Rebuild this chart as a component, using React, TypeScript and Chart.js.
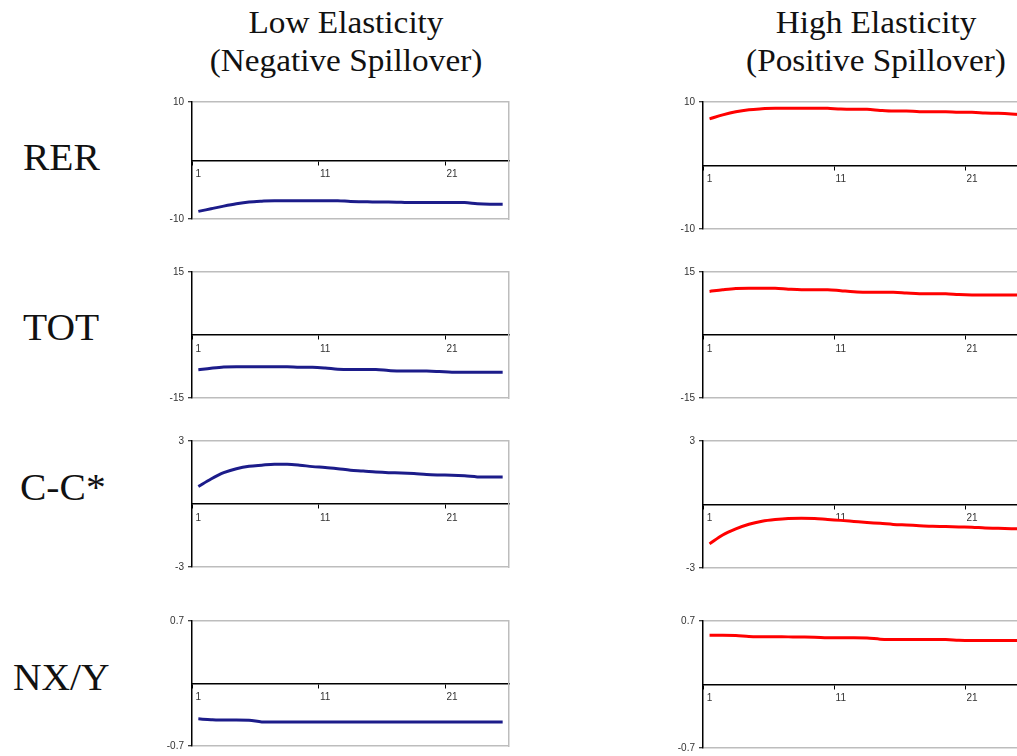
import React, { useEffect, useRef } from 'react';
import { Chart, registerables } from 'chart.js';

Chart.register(...registerables);

// ---------- data ----------
const periods = [1, 2, 3, 4, 5, 6, 7, 8, 9, 10, 11, 12, 13, 14, 15, 16, 17, 18, 19, 20, 21, 22, 23, 24, 25];
const labeledPeriods = [1, 11, 21];

const rowLabels = ['RER', 'TOT', 'C-C*', 'NX/Y'];
const columnTitles = [
  ['Low Elasticity', '(Negative Spillover)'],
  ['High Elasticity', '(Positive Spillover)'],
];

const rerTicks = [-10, 10];
const totTicks = [-15, 15];
const ccTicks = [-3, 3];
const nxTicks = [-0.7, 0.7];

const lowRER = [-8.7, -8.25, -7.8, -7.4, -7.1, -6.95, -6.86, -6.86, -6.86, -6.86, -6.86, -6.88, -7.0, -7.05, -7.1, -7.1, -7.15, -7.19, -7.19, -7.19, -7.19, -7.2, -7.4, -7.46, -7.46];
const highRER = [7.35, 7.97, 8.47, 8.78, 8.93, 9.03, 9.03, 9.03, 9.03, 9.0, 8.88, 8.85, 8.85, 8.68, 8.58, 8.58, 8.47, 8.47, 8.47, 8.37, 8.37, 8.27, 8.22, 8.12, 7.97];

const lowTOT = [-8.3, -7.92, -7.62, -7.54, -7.54, -7.54, -7.54, -7.54, -7.69, -7.69, -7.85, -8.15, -8.23, -8.23, -8.23, -8.46, -8.6, -8.6, -8.6, -8.7, -8.85, -8.85, -8.85, -8.85, -8.85];
const highTOT = [10.38, 10.77, 11.08, 11.15, 11.15, 11.15, 10.92, 10.77, 10.77, 10.77, 10.54, 10.31, 10.15, 10.15, 10.15, 10.0, 9.85, 9.85, 9.85, 9.62, 9.54, 9.54, 9.54, 9.54, 9.54];

const lowCC = [0.83, 1.19, 1.49, 1.68, 1.8, 1.85, 1.89, 1.89, 1.85, 1.78, 1.74, 1.68, 1.61, 1.57, 1.52, 1.49, 1.48, 1.45, 1.4, 1.38, 1.37, 1.34, 1.29, 1.28, 1.28];
const highCC = [-1.86, -1.44, -1.15, -0.93, -0.79, -0.71, -0.66, -0.65, -0.66, -0.71, -0.75, -0.8, -0.85, -0.89, -0.94, -0.97, -1.0, -1.03, -1.04, -1.06, -1.07, -1.11, -1.12, -1.14, -1.15];

const lowNX = [-0.396, -0.405, -0.41, -0.41, -0.412, -0.43, -0.432, -0.432, -0.432, -0.432, -0.432, -0.432, -0.432, -0.432, -0.432, -0.432, -0.432, -0.432, -0.432, -0.432, -0.432, -0.432, -0.432, -0.432, -0.432];
const highNX = [0.543, 0.543, 0.541, 0.53, 0.527, 0.526, 0.525, 0.524, 0.522, 0.515, 0.514, 0.514, 0.512, 0.5, 0.497, 0.496, 0.496, 0.495, 0.495, 0.488, 0.486, 0.486, 0.486, 0.485, 0.485];

// ---------- layout ----------
const Y_W = 40;
const PAD_T = 8;
const PAD_B = 8;
const PAD_R = 2;

const LOW_COLOR = '#1c1c8a';
const HIGH_COLOR = '#ff0000';
const GRAY = '#bdbdbd';
const SANS = "'Liberation Sans', Arial, sans-serif";
const SERIF = "'Liberation Serif', 'Times New Roman', serif";

type PanelProps = {
  values: number[];
  yTicks: number[];
  color: string;
  axisX: number;
  plotRight: number;
  plotTop: number;
  plotBottom: number;
};

function Panel({ values, yTicks, color, axisX, plotRight, plotTop, plotBottom }: PanelProps) {
  const ref = useRef<HTMLCanvasElement>(null);
  const left = axisX - Y_W;
  const top = plotTop - PAD_T;
  const width = Math.round(plotRight - axisX + Y_W + PAD_R);
  const height = Math.round(plotBottom - plotTop + PAD_T + PAD_B);

  useEffect(() => {
    if (!ref.current) return;
    const lim = Math.max(...yTicks.map((v) => Math.abs(v)));
    const tickCol = (c: any) => (c.type === 'tick' && c.index % 10 === 0 ? '#000' : 'rgba(0,0,0,0)');
    const chart = new Chart(ref.current, {
      type: 'line',
      data: {
        labels: periods.map(String),
        datasets: [
          {
            data: values,
            borderColor: color,
            borderWidth: 3,
            pointRadius: 0,
            fill: false,
            cubicInterpolationMode: 'monotone',
          },
        ],
      },
      options: {
        responsive: false,
        animation: false,
        devicePixelRatio: 1,
        events: [],
        layout: { padding: { left: 0, top: PAD_T, right: PAD_R, bottom: PAD_B } },
        plugins: { legend: { display: false }, tooltip: { enabled: false }, title: { display: false } },
        scales: {
          x: {
            type: 'category',
            position: { y: 0 } as any,
            offset: true,
            grid: {
              offset: true,
              drawOnChartArea: false,
              drawTicks: true,
              tickLength: 4,
              tickWidth: 1,
              color: tickCol as any,
              tickColor: tickCol as any,
            },
            border: { display: true, color: '#000', width: 1.5 },
            ticks: {
              autoSkip: false,
              maxRotation: 0,
              minRotation: 0,
              padding: 4,
              color: '#333',
              font: { family: SANS, size: 10 },
              callback: (_v: any, i: number) => (labeledPeriods.includes(periods[i]) ? String(periods[i]) : ''),
            },
          },
          y: {
            type: 'linear',
            position: 'left',
            min: -lim,
            max: lim,
            afterBuildTicks: (s: any) => {
              s.ticks = yTicks.map((v) => ({ value: v }));
            },
            afterFit: (s: any) => {
              s.width = Y_W;
            },
            grid: { color: GRAY, lineWidth: 1.5, tickColor: '#000', tickLength: 4, tickWidth: 1 },
            border: { display: true, color: '#000', width: 1.5 },
            ticks: {
              padding: 4,
              color: '#333',
              font: { family: SANS, size: 10 },
              callback: (v: any) => String(v),
            },
          },
          y2: {
            type: 'linear',
            position: 'right',
            min: 0,
            max: 1,
            afterFit: (s: any) => {
              s.width = 0;
            },
            ticks: { display: false },
            grid: { drawOnChartArea: false, drawTicks: false },
            border: { display: true, color: GRAY, width: 1.5 },
          },
        },
      } as any,
    });
    return () => chart.destroy();
  }, []);

  return (
    <canvas
      ref={ref}
      width={width}
      height={height}
      style={{ position: 'absolute', left, top, width, height, display: 'block' }}
    />
  );
}

const leftCol = { axisX: 192, plotRight: 509, color: LOW_COLOR };
const rightCol = { axisX: 703, plotRight: 1031, color: HIGH_COLOR };

const rows = [
  { label: rowLabels[0], ticks: rerTicks, low: lowRER, high: highRER, lTop: 100, lBot: 221, rTop: 100, rBot: 231, labelTop: 138, labelX: 23 },
  { label: rowLabels[1], ticks: totTicks, low: lowTOT, high: highTOT, lTop: 270, lBot: 400, rTop: 270, rBot: 400, labelTop: 308, labelX: 23 },
  { label: rowLabels[2], ticks: ccTicks, low: lowCC, high: highCC, lTop: 439, lBot: 569, rTop: 439, rBot: 570, labelTop: 468, labelX: 20 },
  { label: rowLabels[3], ticks: nxTicks, low: lowNX, high: highNX, lTop: 619, lBot: 748, rTop: 619, rBot: 750, labelTop: 658, labelX: 13 },
];

const titleCenters = [346, 876];

export default function App() {
  return (
    <div
      style={{
        position: 'fixed',
        left: 0,
        top: 0,
        width: 1017,
        height: 756,
        overflow: 'hidden',
        background: '#fff',
      }}
    >
      {columnTitles.map((lines, ci) =>
        lines.map((t, li) => (
          <div
            key={`t${ci}${li}`}
            style={{
              position: 'absolute',
              left: titleCenters[ci],
              top: li === 0 ? 6 : 44,
              fontFamily: SERIF,
              fontSize: 32,
              lineHeight: '32px',
              whiteSpace: 'nowrap',
              color: '#111',
              transform: 'translateX(-50%) scaleX(1.04)',
            }}
          >
            {t}
          </div>
        ))
      )}
      {rows.map((r, ri) => (
        <div
          key={`l${ri}`}
          style={{
            position: 'absolute',
            left: r.labelX,
            top: r.labelTop,
            fontFamily: SERIF,
            fontSize: 38,
            lineHeight: '38px',
            whiteSpace: 'nowrap',
            color: '#111',
            transform: 'scaleX(1.04)',
            transformOrigin: '0 50%',
          }}
        >
          {r.label}
        </div>
      ))}
      {rows.map((r, ri) => (
        <React.Fragment key={`p${ri}`}>
          <Panel
            values={r.low}
            yTicks={r.ticks}
            color={leftCol.color}
            axisX={leftCol.axisX}
            plotRight={leftCol.plotRight}
            plotTop={r.lTop}
            plotBottom={r.lBot}
          />
          <Panel
            values={r.high}
            yTicks={r.ticks}
            color={rightCol.color}
            axisX={rightCol.axisX}
            plotRight={rightCol.plotRight}
            plotTop={r.rTop}
            plotBottom={r.rBot}
          />
        </React.Fragment>
      ))}
    </div>
  );
}
